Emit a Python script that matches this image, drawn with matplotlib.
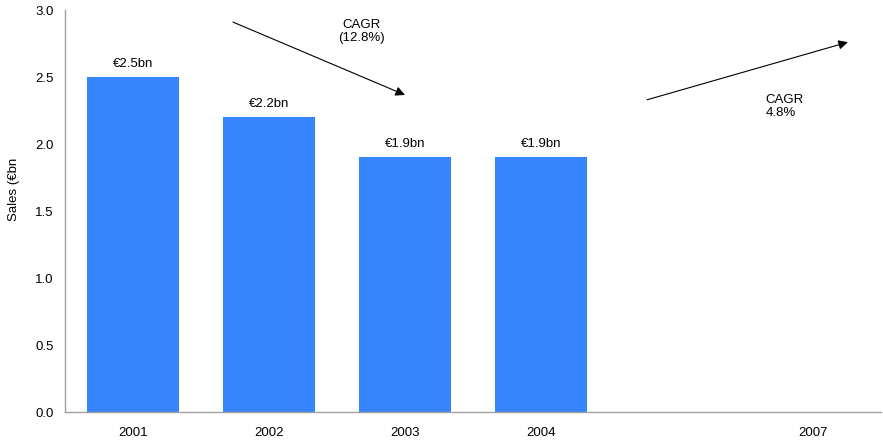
import matplotlib
matplotlib.use("Agg")
import matplotlib.pyplot as plt
import numpy as np

plt.rcParams['font.family'] = ['Liberation Sans', 'DejaVu Sans']

years = ['2001', '2002', '2003', '2004', '', '2007']
sales = [2.5, 2.2, 1.9, 1.9, np.nan, np.nan]
bar_labels = ['€2.5bn', '€2.2bn', '€1.9bn', '€1.9bn', '', '']
y_ticks = [0.0, 0.5, 1.0, 1.5, 2.0, 2.5, 3.0]

FS = 9.5
fig = plt.figure(figsize=(8.83, 4.44), dpi=100)
ax = fig.add_axes([65/883, 32/444, 816/883, 402/444])

x = np.arange(len(years))
ax.bar(x, sales, width=0.67, color='#3685FE')
for xi, v, lab in zip(x, sales, bar_labels):
    if lab:
        ax.annotate(lab, (xi, v), xytext=(0, 5), textcoords='offset points',
                    ha='center', va='bottom', fontsize=FS)

ax.set_xlim(-0.5, len(years) - 0.5)
ax.set_ylim(0, 3.0)
ax.set_xticks(x)
ax.set_xticklabels(years, fontsize=FS)
ax.set_yticks(y_ticks)
ax.set_yticklabels([f'{t:.1f}' for t in y_ticks], fontsize=FS)
ax.tick_params(axis='x', length=0, pad=11)
ax.tick_params(axis='y', length=0, pad=8)
ax.set_ylabel('Sales (€bn', fontsize=FS)
ax.yaxis.set_label_coords(-0.055, 0.555)

for s in ['top', 'right']:
    ax.spines[s].set_visible(False)
for s in ['left', 'bottom']:
    ax.spines[s].set_color('#A0A0A0')
    ax.spines[s].set_linewidth(1.0)

arrow = dict(arrowstyle='-|>', color='black', lw=0.8, mutation_scale=14, shrinkA=0, shrinkB=0)
ax.annotate('', xy=(2.0, 2.366), xytext=(0.735, 2.91), arrowprops=arrow, annotation_clip=False)
ax.annotate('', xy=(5.257, 2.76), xytext=(3.78, 2.33), arrowprops=arrow, annotation_clip=False)

ax.text(1.68, 2.84, 'CAGR\n(12.8%)', ha='center', va='center', fontsize=FS, linespacing=1.1)
ax.text(4.65, 2.28, 'CAGR\n4.8%', ha='left', va='center', fontsize=FS, linespacing=1.1)

fig.savefig('out.png', dpi=100)
